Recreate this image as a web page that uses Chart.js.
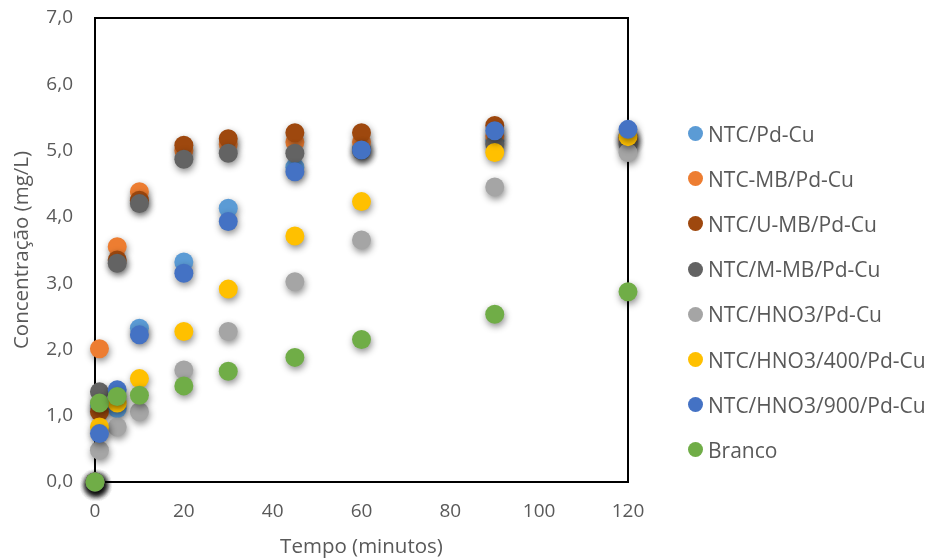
<!DOCTYPE html>
<html>
<head>
<meta charset="utf-8">
<script src="https://cdn.jsdelivr.net/npm/chart.js@4.4.0/dist/chart.umd.min.js"></script>
<style>
    html, body { margin: 0; padding: 0; background: #fff; }
    #wrap { position: relative; width: 931px; height: 560px; }
    #legend { position: absolute; left: 688px; top: 111px; font-family: "Open Sans", sans-serif; font-size: 21px; color: #595959; }
    .item { height: 45.2px; display: flex; align-items: center; }
    .dot { width: 15px; height: 15px; border-radius: 50%; margin-right: 5px; }
</style>
</head>
<body>
<div id="wrap">
    <canvas id="chart" width="931" height="560"></canvas>
    <div id="legend"></div>
</div>
<script>
// Tempo (minutos)
const times = [0, 1, 5, 10, 20, 30, 45, 60, 90, 120];

// Concentração (mg/L) per material
const ntcPdCu      = [0, 1.15, 1.11, 2.32, 3.32, 4.13, 4.75, 5.02, 5.15, 5.20];
const ntcMbPdCu    = [0, 2.01, 3.55, 4.38, 5.00, 5.10, 5.13, 5.13, 5.22, 5.15];
const ntcUMbPdCu   = [0, 1.06, 3.35, 4.25, 5.08, 5.18, 5.27, 5.27, 5.38, 5.20];
const ntcMMbPdCu   = [0, 1.36, 3.30, 4.20, 4.87, 4.96, 4.96, 5.00, 5.10, 5.10];
const hno3PdCu     = [0, 0.48, 0.83, 1.06, 1.69, 2.27, 3.02, 3.65, 4.45, 4.97];
const hno3400PdCu  = [0, 0.83, 1.19, 1.56, 2.27, 2.91, 3.71, 4.23, 4.97, 5.21];
const hno3900PdCu  = [0, 0.73, 1.39, 2.22, 3.15, 3.93, 4.68, 5.01, 5.30, 5.32];
const branco       = [0, 1.19, 1.29, 1.31, 1.45, 1.67, 1.88, 2.15, 2.53, 2.87];

const seriesNames = ['NTC/Pd-Cu', 'NTC-MB/Pd-Cu', 'NTC/U-MB/Pd-Cu', 'NTC/M-MB/Pd-Cu',
    'NTC/HNO3/Pd-Cu', 'NTC/HNO3/400/Pd-Cu', 'NTC/HNO3/900/Pd-Cu', 'Branco'];
const seriesValues = [ntcPdCu, ntcMbPdCu, ntcUMbPdCu, ntcMMbPdCu, hno3PdCu, hno3400PdCu, hno3900PdCu, branco];
const seriesColors = ['#5B9BD5', '#ED7D31', '#9E480E', '#636363', '#A5A5A5', '#FFC000', '#4472C4', '#70AD47'];

const textColor = '#595959';
const fontFamily = '"Open Sans", sans-serif';

// later series sit on top, as in the original
const datasets = seriesNames.map((name, i) => ({
    label: name,
    data: times.map((t, j) => ({ x: t, y: seriesValues[i][j] })),
    backgroundColor: seriesColors[i],
    borderColor: seriesColors[i],
    borderWidth: 0,
    pointRadius: 9.5,
    pointHoverRadius: 9.5,
    order: seriesNames.length - i,
    clip: false
}));

// plot frame + soft drop shadow under markers
const shadowPlugin = {
    id: 'markerShadow',
    beforeDatasetsDraw(chart) {
        const ctx = chart.ctx;
        const a = chart.chartArea;
        ctx.save();
        ctx.strokeStyle = '#000';
        ctx.lineWidth = 2;
        ctx.strokeRect(a.left, a.top, a.right - a.left, a.bottom - a.top);
        ctx.restore();
        ctx.save();
        ctx.shadowColor = 'rgba(0,0,0,0.45)';
        ctx.shadowBlur = 7;
        ctx.shadowOffsetX = 1;
        ctx.shadowOffsetY = 3;
    },
    afterDatasetsDraw(chart) {
        chart.ctx.restore();
    }
};

new Chart(document.getElementById('chart'), {
    type: 'scatter',
    data: { datasets: datasets },
    plugins: [shadowPlugin],
    options: {
        responsive: false,
        animation: false,
        layout: { padding: { left: 0, right: 303, top: 18, bottom: 0 } },
        plugins: {
            legend: { display: false },
            tooltip: { enabled: false }
        },
        scales: {
            x: {
                type: 'linear',
                min: 0,
                max: 120,
                afterFit: scale => { scale.height = 78; },
                grid: { display: false, drawTicks: false },
                border: { display: false },
                ticks: {
                    stepSize: 20,
                    padding: 18,
                    color: textColor,
                    font: { family: fontFamily, size: 19 }
                },
                title: {
                    display: true,
                    text: 'Tempo (minutos)',
                    color: textColor,
                    padding: { top: 0, bottom: 1 },
                    font: { family: fontFamily, size: 20.5 }
                }
            },
            y: {
                min: 0,
                max: 7,
                afterFit: scale => {
                    scale.width = 95;
                    // tick padding should not push the plot down
                    scale.paddingTop = 0;
                    scale.paddingBottom = 0;
                },
                grid: { display: false, drawTicks: false },
                border: { display: false },
                ticks: {
                    stepSize: 1,
                    padding: 22,
                    color: textColor,
                    font: { family: fontFamily, size: 19 },
                    callback: value => value.toFixed(1).replace('.', ',')
                },
                title: {
                    display: true,
                    text: 'Concentração (mg/L)',
                    color: textColor,
                    padding: { top: 10, bottom: 0 },
                    font: { family: fontFamily, size: 20.5 }
                }
            }
        }
    }
});

// legend built from the same series lists
const legendEl = document.getElementById('legend');
seriesNames.forEach((name, i) => {
    const row = document.createElement('div');
    row.className = 'item';
    const dot = document.createElement('span');
    dot.className = 'dot';
    dot.style.background = seriesColors[i];
    const label = document.createElement('span');
    label.textContent = name;
    row.appendChild(dot);
    row.appendChild(label);
    legendEl.appendChild(row);
});
</script>
</body>
</html>
